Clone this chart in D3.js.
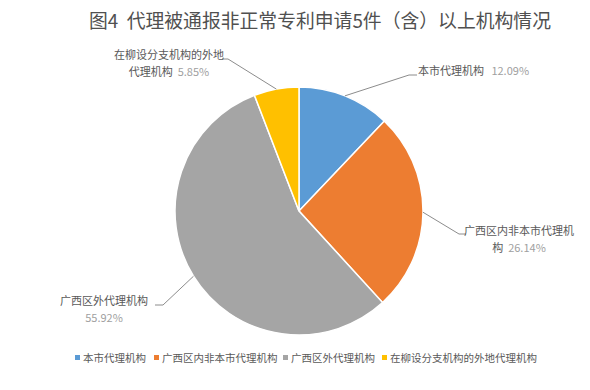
<!DOCTYPE html>
<html><head><meta charset="utf-8">
<script src="https://cdn.jsdelivr.net/npm/d3@7"></script>
<style>body{margin:0;background:#fff}svg{display:block}svg text{white-space:pre}</style>
</head><body>
<svg id="c" width="590" height="390"></svg>
<script>
const title = "图4  代理被通报非正常专利申请5件（含）以上机构情况";
const categories = ["本市代理机构", "广西区内非本市代理机构", "广西区外代理机构", "在柳设分支机构的外地代理机构"];
const values = [12.09, 26.14, 55.92, 5.85];
const pctLabels = ["12.09%", "26.14%", "55.92%", "5.85%"];
const colors = ["#5B9BD5", "#ED7D31", "#A5A5A5", "#FFC000"];
// label line-splitting (how the label text wraps)
const labelLines = [
  [["本市代理机构"], ["", "12.09%"]],
  [["广西区内非本市代理机"], ["构  ", "26.14%"]],
  [["广西区外代理机构"], ["", "55.92%"]],
  [["在柳设分支机构的外地"], ["代理机构  ", "5.85%"]]
];

const svg = d3.select("#c");
const font = "'Noto Sans CJK SC','Microsoft YaHei',sans-serif";
const cx = 299, cy = 211, R = 124;

svg.append("text").attr("x", 320).attr("y", 28)
  .attr("text-anchor", "middle").attr("font-family", font)
  .attr("font-size", 19).attr("fill", "#505050")
  .attr("textLength", 462).attr("lengthAdjust", "spacingAndGlyphs")
  .text(title);

const pie = d3.pie().sort(null).value(d => d)(values);
const arc = d3.arc().innerRadius(0).outerRadius(R);
const g = svg.append("g").attr("transform", `translate(${cx},${cy})`);
g.selectAll("path").data(pie).join("path")
  .attr("d", arc).attr("fill", (d, i) => colors[i])
  .attr("stroke", "#fff").attr("stroke-width", 1.5);

// label layout: elbow point and text anchor positions (absolute)
const layout = [
  {elbow: [409, 75], end: 417, tx: 418, anchor: "start", ty: 75},
  {elbow: [459, 234], end: 466, tx: 519, anchor: "middle", ty: 235},
  {elbow: [163, 305], end: 155, tx: 104, anchor: "middle", ty: 305},
  {elbow: [228, 59], end: 222, tx: 169, anchor: "middle", ty: 59}
];

pie.forEach((d, i) => {
  const a = (d.startAngle + d.endAngle) / 2;
  const p0 = [cx + R * Math.sin(a), cy - R * Math.cos(a)];
  const L = layout[i];
  svg.append("polyline")
    .attr("points", [p0, L.elbow, [L.end, L.elbow[1]]].map(p => p.join(",")).join(" "))
    .attr("fill", "none").attr("stroke", "#8c8c8c").attr("stroke-width", 1);
  const t = svg.append("text").attr("font-family", font).attr("font-size", 11)
    .attr("text-anchor", L.anchor).attr("x", L.tx).attr("y", L.ty);
  if (i === 0) {
    t.append("tspan").attr("fill", "#595959").text(categories[0] + "   ");
    t.append("tspan").attr("fill", "#a0a0a0").text(pctLabels[0]);
  } else {
    const lines = labelLines[i];
    t.append("tspan").attr("x", L.tx).attr("fill", "#595959").text(lines[0][0]);
    const l2 = t.append("tspan").attr("x", L.tx).attr("dy", 17);
    if (lines[1][0]) l2.append("tspan").attr("fill", "#595959").text(lines[1][0]);
    l2.append("tspan").attr("fill", "#a0a0a0").text(pctLabels[i]);
  }
});

// legend
const legendX = [75, 154, 283, 382];
const lg = svg.append("g");
categories.forEach((c, i) => {
  lg.append("rect").attr("x", legendX[i]).attr("y", 355).attr("width", 5).attr("height", 5)
    .attr("fill", colors[i]);
  lg.append("text").attr("x", legendX[i] + 8).attr("y", 362)
    .attr("font-family", font).attr("font-size", 10.5).attr("fill", "#595959").text(c);
});
</script>
</body></html>
